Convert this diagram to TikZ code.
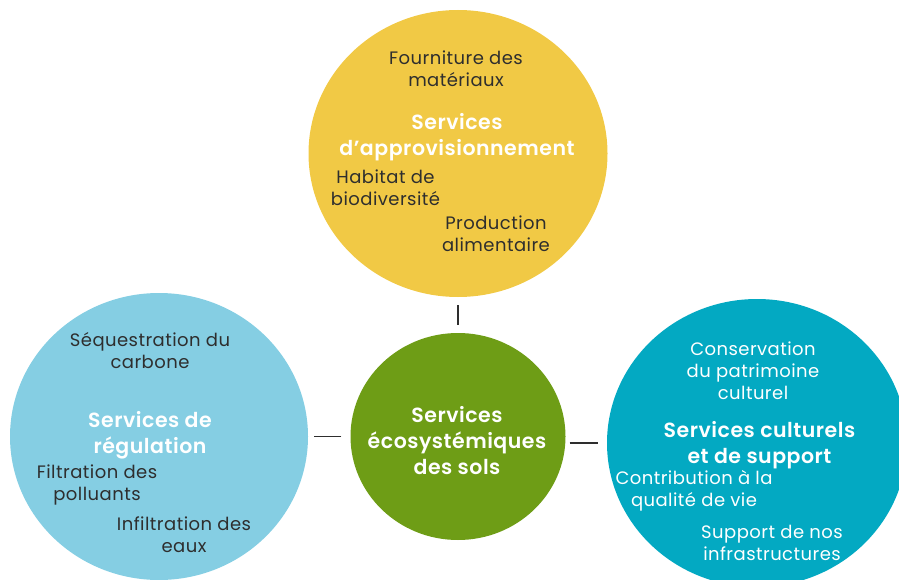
\documentclass[tikz,border=0pt]{standalone}
\usepackage{fontspec}
\setmainfont{Poppins}[BoldFont={* SemiBold},LetterSpace=2.5]
\usetikzlibrary{shapes.geometric}
\definecolor{jaune}{HTML}{F1C945}
\definecolor{vert}{HTML}{6E9D16}
\definecolor{bleuclair}{HTML}{85CEE3}
\definecolor{turquoise}{HTML}{03A9C2}
\definecolor{texte}{HTML}{2E2E2E}

\begin{document}
\begin{tikzpicture}[x=1pt,y=-1pt,
    rond/.style={ellipse,inner sep=0pt,draw=none},
    titre/.style={align=center,text=white,font=\fontsize{20.5}{26}\selectfont\bfseries},
    item/.style={align=center,text=texte,font=\fontsize{18}{22}\selectfont},
    lien/.style={line width=1.3pt,draw=texte}]
        % page
        \clip (0,0) rectangle (899,580);

        % cercles
        \node[rond,fill=jaune,minimum width=299pt,minimum height=287pt] (appro) at (458,153.5) {};
        \node[rond,fill=bleuclair,minimum width=298pt,minimum height=287pt] (regul) at (159,436.5) {};
        \node[rond,fill=turquoise,minimum width=300pt,minimum height=288pt] (cult) at (757,443) {};
        \node[rond,fill=vert,minimum width=215pt,minimum height=207pt] (sols) at (458,436.5) {};

        % liens
        \draw[lien,shorten <=8pt,shorten >=8pt] (sols.north) -- (appro.south);
        \draw[lien,shorten <=9pt,shorten >=6pt] (sols.west) -- (regul.east);
        \draw[lien,shorten <=4pt,shorten >=9pt] (cult.west -| sols.east) -- (cult.west);

        % centre
        \node[titre] (tsols) at (457,441) {Services\\écosystémiques\\des sols};

        % approvisionnement
        \node[item] (fourn) at (456,69) {Fourniture des\\matériaux};
        \node[titre] (tappro) at (457,137) {Services\\d’approvisionnement};
        \node[item] (habitat) at (385.5,188) {Habitat de\\biodiversité};
        \node[item] (prod) at (496,234) {Production\\alimentaire};

        % regulation
        \node[item] (sequest) at (150,351) {Séquestration du\\carbone};
        \node[titre] (tregul) at (150,435) {Services de\\régulation};
        \node[item] (filtr) at (97,485) {Filtration des\\polluants};
        \node[item] (infilt) at (184,535) {Infiltration des\\eaux};

        % culturels
        \node[item,text=white] (conserv) at (753,371) {Conservation\\du patrimoine\\culturel};
        \node[titre] (tcult) at (759.5,445) {Services culturels\\et de support};
        \node[item,text=white] (contrib) at (694,491) {Contribution à la\\qualité de vie};
        \node[item,text=white] (supp) at (772,543) {Support de nos\\infrastructures};

    \end{tikzpicture}
\end{document}
